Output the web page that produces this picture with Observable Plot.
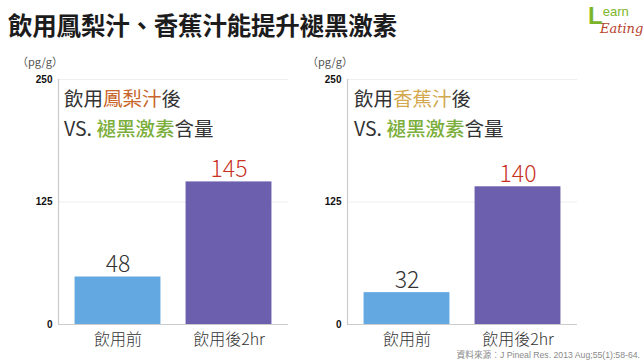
<!DOCTYPE html>
<html><head><meta charset="utf-8">
<script src="https://cdn.jsdelivr.net/npm/d3@7"></script>
<script src="https://cdn.jsdelivr.net/npm/@observablehq/plot@0.6"></script>
<style>
body{margin:0;background:#fff;}
#wrap{position:relative;width:644px;height:362px;overflow:hidden;background:#fff;font-family:"Noto Sans CJK TC","Noto Sans",sans-serif;}
.abs{position:absolute;white-space:nowrap;}
#title{left:8px;top:9px;font-size:24.5px;font-weight:bold;color:#1c1c1c;line-height:32px;letter-spacing:-0.2px;}
.unit{font-size:11px;color:#555;line-height:14px;}
.note{font-size:19.5px;color:#333;line-height:30px;font-weight:400;}
.note .g{color:#7cae3c;font-weight:500;}
.caption{right:4px;top:349px;font-size:8.7px;color:#8a8a8a;line-height:12px;font-family:"Liberation Sans","Noto Sans CJK TC",sans-serif;}
.plotbox{position:absolute;top:60px;}
</style></head>
<body><div id="wrap">
<div id="title" class="abs">飲用鳳梨汁、香蕉汁能提升褪黑激素</div>
<div class="abs" style="left:588px;top:4px;line-height:1;">
  <span style="font-family:'Liberation Sans';font-size:24px;color:#7db52a;font-weight:bold;">L</span><span style="font-family:'Liberation Sans';font-size:13px;color:#7db52a;position:relative;top:-8px;">earn</span>
</div>
<div class="abs" style="left:600px;top:21px;font-family:'DejaVu Serif';font-style:italic;font-size:13px;color:#b8412c;">Eating</div>
<div class="abs unit" style="left:17px;top:54px;">（pg/g）</div>
<div class="abs unit" style="left:307px;top:54px;">（pg/g）</div>
<div id="left" class="plotbox" style="left:0px;"></div>
<div id="right" class="plotbox" style="left:289px;"></div>
<div class="abs note" style="left:64px;top:83px;">飲用<span style="color:#c8652a">鳳梨汁</span>後<br>VS. <span class="g">褪黑激素</span>含量</div>
<div class="abs note" style="left:354px;top:83px;">飲用<span style="color:#d2a94e">香蕉汁</span>後<br>VS. <span class="g">褪黑激素</span>含量</div>
<div class="abs caption">資料來源：J Pineal Res. 2013 Aug;55(1):58-64.</div>
</div>
<script>
const categories = ["飲用前", "飲用後2hr"];
const pineappleValues = [48, 145];
const bananaValues = [32, 140];
const yTicks = [0, 125, 250];
const yDomain = [0, 250];

const barColors = ["#64a8e2", "#6c60ae"];
const labelColors = ["#333333", "#c8321f"];
const font = "'Noto Sans CJK TC','Noto Sans',sans-serif";

function makeChart(values) {
  const data = categories.map((c, i) => ({cat: c, value: values[i], bar: barColors[i], lab: labelColors[i]}));
  return Plot.plot({
    width: 300, height: 300,
    marginTop: 19, marginBottom: 36, marginLeft: 58, marginRight: 12,
    style: {fontFamily: font, background: "transparent"},
    x: {domain: categories, paddingInner: 0.234, paddingOuter: 0.153, label: null},
    y: {domain: yDomain, ticks: yTicks, label: null},
    color: {type: "identity"},
    marks: [
      Plot.ruleY(yTicks.filter(t => t > 0), {stroke: "#eeeeee", strokeWidth: 1}),
      Plot.barY(data, {x: "cat", y: "value", fill: "bar", stroke: "bar", strokeWidth: 1, strokeOpacity: 0.9}),
      Plot.ruleY([0], {stroke: "#cccccc", strokeWidth: 1.2}),
      Plot.frame({anchor: "left", stroke: "#cccccc", strokeWidth: 1.2}),
      Plot.text(data, {x: "cat", y: "value", text: d => String(d.value), fill: "lab", fontSize: 23, fontWeight: 300, lineAnchor: "bottom", dy: -5}),
      Plot.axisY({ticks: yTicks, tickSize: 0, tickPadding: 6, fontSize: 10, fill: "#111", fontFamily: "'Liberation Sans',Arial,sans-serif", fontWeight: "bold", label: null}),
      Plot.axisX({tickSize: 0, tickPadding: 9, fontSize: 16, fontWeight: 300, fill: "#333", label: null})
    ]
  });
}
document.getElementById("left").appendChild(makeChart(pineappleValues));
document.getElementById("right").appendChild(makeChart(bananaValues));
</script>
</body></html>
